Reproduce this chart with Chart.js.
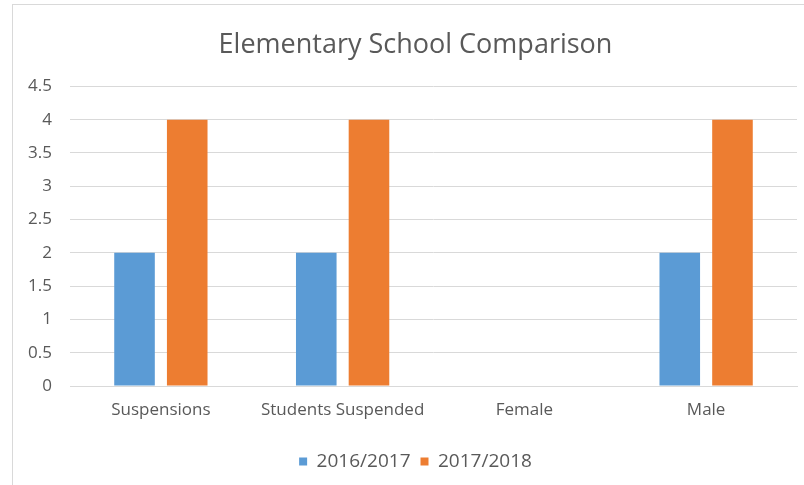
<!DOCTYPE html>
<html>
<head>
<meta charset="utf-8">
<script src="https://cdn.jsdelivr.net/npm/chart.js@4"></script>
<style>
    body { margin: 0; background: #fff; }
    #frame {
        position: absolute; left: 12px; top: 4px; width: 820px; height: 520px;
        border-left: 1px solid #d9d9d9; border-top: 1px solid #d9d9d9;
    }
    #chart { position: absolute; left: 0; top: 0; }
</style>
</head>
<body>
<div id="frame"></div>
<canvas id="chart" width="804" height="485"></canvas>
<script>
// Chart data
const categories = ['Suspensions', 'Students Suspended', 'Female', 'Male'];
const seriesNames = ['2016/2017', '2017/2018'];
const values2016 = [2, 2, 0, 2];
const values2017 = [4, 4, 0, 4];
const yTicks = [0, 0.5, 1, 1.5, 2, 2.5, 3, 3.5, 4, 4.5];

const textColor = '#595959';
const gridColor = '#d9d9d9';

// title and legend are centred a bit right of the canvas middle, like the Excel chart
const shiftHeaderPlugin = {
    id: 'shiftHeader',
    afterLayout(chart) {
        chart.titleBlock.left += 34;
        chart.legend.left += 34;
    }
};

const ctx = document.getElementById('chart').getContext('2d');
new Chart(ctx, {
    type: 'bar',
    data: {
        labels: categories,
        datasets: [
            { label: seriesNames[0], data: values2016, backgroundColor: '#5B9BD5' },
            { label: seriesNames[1], data: values2017, backgroundColor: '#ED7D31' }
        ]
    },
    options: {
        responsive: false,
        animation: false,
        categoryPercentage: 0.58,
        barPercentage: 0.77,
        layout: { padding: { left: 0, right: 7, top: 0, bottom: 4 } },
        plugins: {
            title: {
                display: true,
                text: 'Elementary School Comparison',
                color: textColor,
                font: { family: 'Open Sans', size: 27, weight: 'normal' },
                padding: { top: 29, bottom: 25 }
            },
            legend: {
                position: 'bottom',
                labels: {
                    color: textColor,
                    font: { family: 'Open Sans', size: 19 },
                    boxWidth: 8,
                    boxHeight: 8,
                    padding: 10
                }
            },
            tooltip: { enabled: false }
        },
        scales: {
            x: {
                grid: { display: false },
                border: { color: gridColor },
                ticks: {
                    color: textColor,
                    font: { family: 'Open Sans', size: 17 },
                    padding: 6,
                    maxRotation: 0
                },
                afterFit: function (scale) { scale.height = 56; }
            },
            y: {
                min: 0,
                max: 4.5,
                afterBuildTicks: function (scale) {
                    scale.ticks = yTicks.map(v => ({ value: v }));
                },
                grid: { color: gridColor, drawTicks: false },
                border: { display: false },
                ticks: {
                    color: textColor,
                    font: { family: 'Open Sans', size: 17 },
                    padding: 18,
                    callback: function (value) { return String(value); }
                },
                afterFit: function (scale) { scale.width = 70; }
            }
        }
    },
    plugins: [shiftHeaderPlugin]
});
</script>
</body>
</html>
